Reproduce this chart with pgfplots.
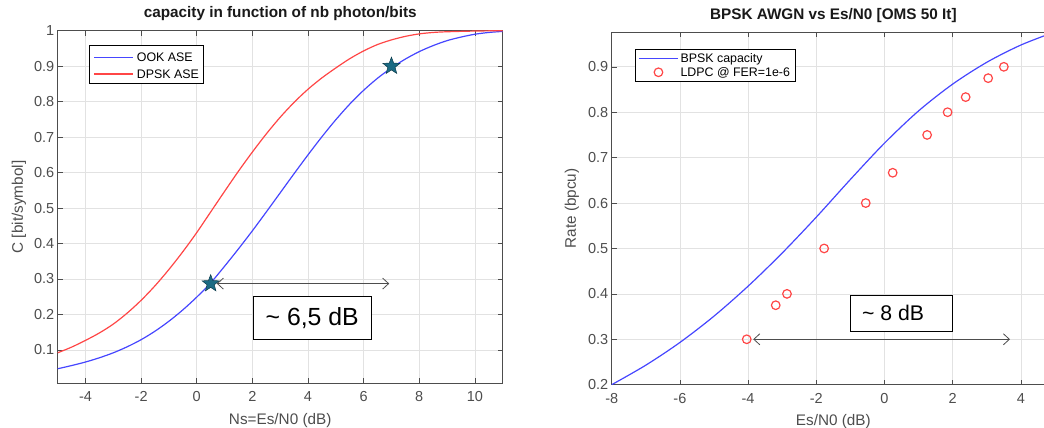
\documentclass[border=0pt]{standalone}
\usepackage{pgfplots}
\pgfplotsset{compat=1.18}
\usepackage{fontspec}
\setmainfont{Liberation Sans}
\usetikzlibrary{arrows.meta}
\definecolor{axgray}{HTML}{4D4D4D}
\definecolor{gridgray}{HTML}{E2E2E2}
\definecolor{mblue}{RGB}{70,70,255}
\definecolor{mred}{RGB}{255,70,70}
\definecolor{starfill}{HTML}{1B6B84}
\definecolor{staredge}{HTML}{0D3D4D}
\pgfdeclareplotmark{fivestar}{%
  \pgfpathmoveto{\pgfpointpolar{90}{\pgfplotmarksize}}%
  \pgfpathlineto{\pgfpointpolar{126}{0.42\pgfplotmarksize}}%
  \pgfpathlineto{\pgfpointpolar{162}{\pgfplotmarksize}}%
  \pgfpathlineto{\pgfpointpolar{198}{0.42\pgfplotmarksize}}%
  \pgfpathlineto{\pgfpointpolar{234}{\pgfplotmarksize}}%
  \pgfpathlineto{\pgfpointpolar{270}{0.42\pgfplotmarksize}}%
  \pgfpathlineto{\pgfpointpolar{306}{\pgfplotmarksize}}%
  \pgfpathlineto{\pgfpointpolar{342}{0.42\pgfplotmarksize}}%
  \pgfpathlineto{\pgfpointpolar{18}{\pgfplotmarksize}}%
  \pgfpathlineto{\pgfpointpolar{54}{0.42\pgfplotmarksize}}%
  \pgfpathclose
  \pgfusepathqfillstroke}
\pgfplotsset{
  mstyle/.style={
    scale only axis,
    axis line style={axgray, line width=0.8pt},
    major tick style={axgray, line width=0.6pt},
    major tick length=5pt,
    tick align=inside,
    tick pos=both,
    grid=major,
    major grid style={gridgray, line width=0.7pt},
    ticklabel style={font=\fontsize{14.5}{17}\selectfont, text=axgray},
    /pgf/number format/assume math mode=true,
    xticklabel style={yshift=-5pt},
    label style={font=\fontsize{15.3}{18}\selectfont, text=axgray},
    title style={font=\fontsize{15.3}{18}\selectfont\bfseries, text=black!90},
    legend style={font=\fontsize{12.4}{14}\selectfont, draw=black, line width=0.7pt,
      fill=white, inner xsep=3pt, inner ysep=2pt, row sep=-1pt},
    legend cell align=left,
    legend image code/.code={%
      \draw[mark repeat=2,mark phase=2,#1] plot coordinates {(0pt,0pt) (19.5pt,0pt) (39pt,0pt)};},
  }
}
\begin{document}
\begin{tikzpicture}
\useasboundingbox (0,0) rectangle (1044pt,428pt);
\clip (0,0) rectangle (1044pt,428pt);
\begin{axis}[mstyle,
  at={(611.7pt,43.3pt)}, anchor=south west,
  width=443.3pt, height=352.4pt,
  xmin=-8, xmax=5, ymin=0.2, ymax=0.976,
  xtick={-8,-6,-4,-2,0,2,4},
  ytick={0.2,0.3,0.4,0.5,0.6,0.7,0.8,0.9},
  title={BPSK AWGN vs Es/N0 [OMS 50 It]},
  title style={at={(axis description cs:0.5,1.018)}, anchor=base},
  xlabel={Es/N0 (dB)},
  xlabel style={at={(axis description cs:0.5,-0.105)}, anchor=center},
  ylabel={Rate (bpcu)},
  ylabel style={at={(axis description cs:-0.090,0.5)}, anchor=center},
  legend style={at={(rel axis cs:0.0526,0.952)}, anchor=north west},
]
\addplot[color=mblue, line width=1.2pt, smooth] coordinates {
(-8,0.200) (-7,0.243) (-6,0.293) (-5,0.351) (-4,0.417) (-3,0.490) (-2,0.569)
(-1,0.652) (0,0.732) (1,0.803) (2,0.862) (3,0.910) (4,0.948) (5,0.977)};
\addlegendentry{BPSK capacity}
\addplot[only marks, mark=o, mark size=4.3pt, color=mred, mark options={line width=1.2pt}] coordinates {
(-4.04,0.300) (-3.19,0.375) (-2.86,0.400) (-1.77,0.500) (-0.55,0.600) (0.24,0.6667)
(1.25,0.750) (1.85,0.800) (2.38,0.8333) (3.04,0.875) (3.50,0.900)};
\addlegendentry{LDPC @ FER=1e-6}
\draw[axgray, line width=0.8pt, {Straight Barb[length=6pt,width=11pt]}-{Straight Barb[length=6pt,width=11pt]}]
  (axis cs:-3.85,0.300) -- (axis cs:3.68,0.300);
\node[draw=black, line width=0.9pt, fill=white, minimum width=102pt, minimum height=36.3pt, inner sep=0pt] at (axis cs:0.504,0.3575) {};
\node[anchor=west, inner sep=0pt, font=\fontsize{21.2}{24}\selectfont] at (axis cs:-0.66,0.3575) {\textasciitilde\ 8 dB};
\end{axis}
\begin{axis}[mstyle,
  at={(57.7pt,44.7pt)}, anchor=south west,
  width=445pt, height=352.6pt,
  xmin=-5, xmax=11, ymin=0.006, ymax=1,
  xtick={-4,-2,0,2,4,6,8,10},
  ytick={0.1,0.2,0.3,0.4,0.5,0.6,0.7,0.8,0.9,1},
  yticklabels={0.1,0.2,0.3,0.4,0.5,0.6,0.7,0.8,0.9,1},
  title={capacity in function of nb photon/bits},
  title style={at={(axis description cs:0.5,1.021)}, anchor=base},
  xlabel={Ns=Es/N0 (dB)},
  xlabel style={at={(axis description cs:0.5,-0.105)}, anchor=center},
  ylabel={C [bit/symbol]},
  ylabel style={at={(axis description cs:-0.087,0.5)}, anchor=center},
]
\addplot[color=mblue, line width=1.2pt, smooth] coordinates {
(-5,0.047) (-4.5,0.056) (-4,0.066) (-3.5,0.078) (-3,0.092) (-2.5,0.109) (-2,0.129)
(-1.5,0.153) (-1,0.181) (-0.5,0.213) (0,0.249) (0.5,0.289) (1,0.336) (1.5,0.385)
(2,0.436) (2.5,0.489) (3,0.543) (3.5,0.597) (4,0.650) (4.5,0.701) (5,0.749)
(5.5,0.793) (6,0.832) (6.5,0.866) (7,0.895) (7.5,0.920) (8,0.941) (8.5,0.958)
(9,0.972) (9.5,0.982) (10,0.990) (10.5,0.995) (11,0.998)};
\addplot[color=mred, line width=1.2pt, smooth] coordinates {
(-5,0.092) (-4.5,0.108) (-4,0.127) (-3.5,0.148) (-3,0.173) (-2.5,0.204) (-2,0.240)
(-1.5,0.281) (-1,0.327) (-0.5,0.377) (0,0.431) (0.5,0.489) (1,0.547) (1.5,0.604)
(2,0.658) (2.5,0.709) (3,0.756) (3.5,0.798) (4,0.835) (4.5,0.867) (5,0.895)
(5.5,0.921) (6,0.943) (6.5,0.961) (7,0.974) (7.5,0.984) (8,0.991) (8.5,0.995)
(9,0.997) (10,0.999) (11,1.000)};
\draw[axgray, line width=0.8pt, {Straight Barb[length=6pt,width=11pt]}-{Straight Barb[length=6pt,width=11pt]}]
  (axis cs:0.72,0.287) -- (axis cs:6.92,0.287);
\addplot[only marks, mark=fivestar, mark size=9pt, mark options={fill=starfill, draw=staredge, line width=0.5pt}, forget plot] coordinates {(0.5,0.287) (7,0.9)};
\node[draw=black, line width=0.9pt, fill=white, minimum width=117.7pt, minimum height=42.4pt, inner sep=0pt,
  font=\fontsize{24.8}{28}\selectfont] at (axis cs:4.15,0.190) {\textasciitilde\ 6,5 dB};
% legend (box, samples, labels)
\draw[black, line width=0.7pt, fill=white] (rel axis cs:0.0703,0.851) rectangle (rel axis cs:0.3272,0.957);
\draw[mblue, line width=1.2pt] (rel axis cs:0.0822,0.9245) -- (rel axis cs:0.170,0.9245);
\draw[mred, line width=1.2pt] (rel axis cs:0.0822,0.877) -- (rel axis cs:0.170,0.877);
\node[anchor=west, inner sep=0pt, font=\fontsize{12.4}{14}\selectfont] at (rel axis cs:0.1775,0.9245) {OOK ASE};
\node[anchor=west, inner sep=0pt, font=\fontsize{12.4}{14}\selectfont] at (rel axis cs:0.1775,0.877) {DPSK ASE};
\end{axis}
\end{tikzpicture}
\end{document}
